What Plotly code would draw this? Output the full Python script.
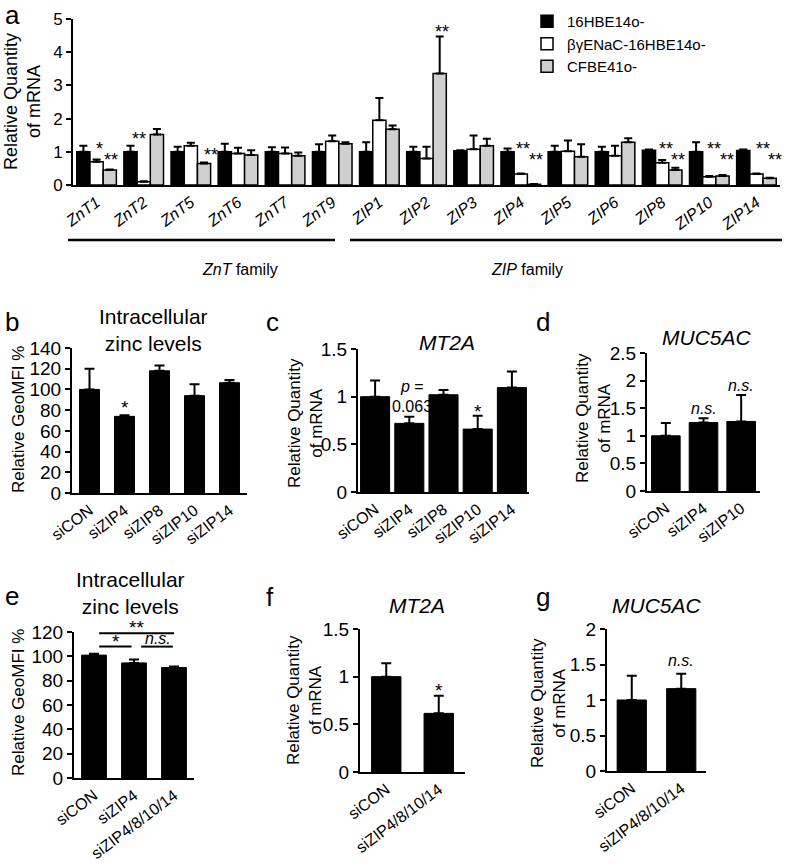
import plotly.graph_objects as go

W, H = 790, 867
FONT = "Liberation Sans, Arial, sans-serif"

# ---------------- Panel a data ----------------
genes = ["ZnT1", "ZnT2", "ZnT5", "ZnT6", "ZnT7", "ZnT9", "ZIP1", "ZIP2", "ZIP3",
         "ZIP4", "ZIP5", "ZIP6", "ZIP8", "ZIP10", "ZIP14"]
series_names = ["16HBE14o-", "βγENaC-16HBE14o-", "CFBE41o-"]
hbe_mean = [1.00, 1.00, 1.00, 1.00, 1.00, 1.00, 1.00, 1.00, 1.03, 1.00, 1.00, 1.00, 1.05, 1.00, 1.04]
hbe_err = [0.18, 0.18, 0.15, 0.24, 0.14, 0.23, 0.29, 0.15, 0.02, 0.10, 0.18, 0.15, 0.02, 0.29, 0.03]
benac_mean = [0.70, 0.10, 1.18, 0.95, 0.95, 1.32, 1.95, 0.80, 1.08, 0.33, 1.02, 0.88, 0.67, 0.25, 0.33]
benac_err = [0.07, 0.01, 0.09, 0.17, 0.18, 0.17, 0.67, 0.35, 0.41, 0.02, 0.32, 0.30, 0.08, 0.02, 0.02]
cfbe_mean = [0.45, 1.52, 0.65, 0.90, 0.88, 1.24, 1.68, 3.36, 1.18, 0.02, 0.85, 1.29, 0.45, 0.27, 0.20]
cfbe_err = [0.02, 0.17, 0.03, 0.15, 0.10, 0.05, 0.11, 1.11, 0.21, 0.01, 0.38, 0.12, 0.07, 0.03, 0.02]

# ---------------- Panels b-g data ----------------
b_groups = ["siCON", "siZIP4", "siZIP8", "siZIP10", "siZIP14"]
b_mean = [100, 74, 118, 94, 106.5]
b_err = [20, 1, 5, 11, 2.5]

c_groups = ["siCON", "siZIP4", "siZIP8", "siZIP10", "siZIP14"]
c_mean = [1.00, 0.72, 1.02, 0.66, 1.095]
c_err = [0.17, 0.07, 0.05, 0.14, 0.17]

d_groups = ["siCON", "siZIP4", "siZIP10"]
d_mean = [1.00, 1.24, 1.26]
d_err = [0.23, 0.08, 0.48]

e_groups = ["siCON", "siZIP4", "siZIP4/8/10/14"]
e_mean = [101, 94.6, 90.8]
e_err = [1.2, 2.7, 0.8]

f_groups = ["siCON", "siZIP4/8/10/14"]
f_mean = [1.00, 0.615]
f_err = [0.14, 0.185]

g_groups = ["siCON", "siZIP4/8/10/14"]
g_mean = [1.00, 1.16]
g_err = [0.34, 0.21]


def xd(x0, x1):
    return [x0 / W, x1 / W]


def yd(ytop, ybot):
    return [1 - ybot / H, 1 - ytop / H]


fig = go.Figure()
layout = dict(
    template="none",
    width=W, height=H, margin=dict(l=0, r=0, t=0, b=0, pad=0, autoexpand=False),
    paper_bgcolor="white", plot_bgcolor="white",
    font=dict(family=FONT, color="black", size=16),
    barmode="overlay",
    showlegend=True,
    legend=dict(x=527 / W, y=1 - 5 / H, xanchor="left", yanchor="top",
                font=dict(size=15, family=FONT), bgcolor="rgba(0,0,0,0)",
                tracegroupgap=0, itemwidth=30),
)

TICKANGLE = -37
axis_common_x = dict(showline=True, linecolor="black", linewidth=2, ticks="",
                     showgrid=False, zeroline=False, type="category", mirror=False,
                     automargin=False)
axis_common_y = dict(showline=True, linecolor="black", linewidth=2, ticks="outside",
                     ticklen=5, tickwidth=1.5, tickcolor="black", showgrid=False,
                     zeroline=False, automargin=False)

# ---------------- Panel a ----------------
cols = ["black", "white", "#cfcfcf"]
means = [hbe_mean, benac_mean, cfbe_mean]
errs = [hbe_err, benac_err, cfbe_err]
offsets = [-0.42, -0.14, 0.14]
for name, m, e, c, off in zip(series_names, means, errs, cols, offsets):
    fig.add_trace(go.Bar(
        x=genes, y=m, name=name, xaxis="x", yaxis="y",
        width=0.28, offset=off,
        marker=dict(color=c, line=dict(color="black", width=1.5)),
        error_y=dict(type="data", array=e, arrayminus=[0] * len(e), symmetric=False,
                     color="black", thickness=2, width=4),
        showlegend=True,
    ))

layout["xaxis"] = dict(axis_common_x, domain=xd(73, 780), anchor="y",
                       range=[-0.5, len(genes) - 0.5],
                       tickmode="array", tickvals=genes,
                       ticktext=["<i>%s</i>" % g for g in genes],
                       tickangle=TICKANGLE, tickfont=dict(size=16, family=FONT))
layout["yaxis"] = dict(axis_common_y, domain=yd(19, 185), anchor="x",
                       range=[0, 5], dtick=1, tickfont=dict(size=17, family=FONT))

annotations = []
shapes = []

a_stars = [(0, 0.07, 1.20, "*"), (0, 0.30, 0.87, "**"), (1, -0.10, 1.50, "**"),
           (2, 0.43, 1.03, "**"), (7, 0.33, 4.73, "**"),
           (9, 0.05, 1.20, "**"), (9, 0.33, 0.88, "**"),
           (12, 0.08, 1.20, "**"), (12, 0.34, 0.88, "**"),
           (13, 0.10, 1.20, "**"), (13, 0.38, 0.88, "**"),
           (14, 0.14, 1.20, "**"), (14, 0.40, 0.88, "**")]
for gi, off, yv, txt in a_stars:
    annotations.append(dict(x=gi + off, y=yv, xref="x", yref="y", text=txt,
                            showarrow=False, font=dict(size=18, family=FONT),
                            yanchor="middle", xanchor="center", yshift=-4))

# family lines
shapes.append(dict(type="line", xref="paper", yref="paper", x0=68 / W, x1=335 / W,
                   y0=1 - 240 / H, y1=1 - 240 / H, line=dict(color="black", width=2.5)))
shapes.append(dict(type="line", xref="paper", yref="paper", x0=350 / W, x1=782 / W,
                   y0=1 - 240 / H, y1=1 - 240 / H, line=dict(color="black", width=2.5)))
annotations.append(dict(x=200 / W, y=1 - 259 / H, xref="paper", yref="paper",
                        text="<i>ZnT</i> family", showarrow=False,
                        font=dict(size=16, family=FONT)))
annotations.append(dict(x=565 / W, y=1 - 259 / H, xref="paper", yref="paper",
                        text="<i>ZIP</i> family", showarrow=False,
                        font=dict(size=16, family=FONT)))

# ---------------- Panels b-g ----------------
panels = [
    # idx, x0, x1, ytop, ybot, ymax, dtick, groups, mean, err, barwidth
    (2, 72, 247, 348, 493, 140, 20, b_groups, b_mean, b_err, 0.57),
    (3, 358, 529, 349, 492, 1.5, 0.5, c_groups, c_mean, c_err, 0.85),
    (4, 647, 760, 353, 491, 2.5, 0.5, d_groups, d_mean, d_err, 0.76),
    (5, 74, 194, 632, 778, 120, 20, e_groups, e_mean, e_err, 0.62),
    (6, 360, 465, 629, 772, 1.5, 0.5, f_groups, f_mean, f_err, 0.56),
    (7, 607, 706, 629, 771, 2.0, 0.5, g_groups, g_mean, g_err, 0.59),
]
for idx, x0, x1, ytop, ybot, ymax, dt, grp, m, e, bw in panels:
    fig.add_trace(go.Bar(
        x=grp, y=m, xaxis="x%d" % idx, yaxis="y%d" % idx, width=bw,
        marker=dict(color="black", line=dict(color="black", width=1)),
        error_y=dict(type="data", array=e, arrayminus=[0] * len(e), symmetric=False,
                     color="black", thickness=2, width=5),
        showlegend=False,
    ))
    layout["xaxis%d" % idx] = dict(axis_common_x, domain=xd(x0, x1), anchor="y%d" % idx,
                                   range=[-0.5, len(grp) - 0.5], tickangle=TICKANGLE,
                                   tickfont=dict(size=16, family=FONT))
    layout["yaxis%d" % idx] = dict(axis_common_y, domain=yd(ytop, ybot), anchor="x%d" % idx,
                                   range=[0, ymax], dtick=dt,
                                   tickfont=dict(size=19, family=FONT))

# y-axis titles
ytitles = [
    (22, 102, "Relative Quantity<br>of mRNA", 18),
    (18, 420, "Relative GeoMFI %", 17),
    (306, 423, "Relative Quantity<br>of mRNA", 17),
    (593, 418, "Relative Quantity<br>of mRNA", 17),
    (18, 703, "Relative GeoMFI %", 17),
    (304, 700, "Relative Quantity<br>of mRNA", 17),
    (548, 703, "Relative Quantity<br>of mRNA", 17),
]
for xp, yp, txt, fs in ytitles:
    annotations.append(dict(x=xp / W, y=1 - yp / H, xref="paper", yref="paper", text=txt,
                            textangle=-90, showarrow=False, font=dict(size=fs, family=FONT),
                            xanchor="center", yanchor="middle"))

# panel titles
ptitles = [
    (153, 330, "Intracellular<br>zinc levels"),
    (447, 342, "<i>MT2A</i>"),
    (707, 337, "<i>MUC5AC</i>"),
    (130, 593, "Intracellular<br>zinc levels"),
    (417, 605, "<i>MT2A</i>"),
    (657, 605, "<i>MUC5AC</i>"),
]
for xp, yp, txt in ptitles:
    annotations.append(dict(x=xp / W, y=1 - yp / H, xref="paper", yref="paper", text=txt,
                            showarrow=False, font=dict(size=21, family=FONT),
                            xanchor="center", yanchor="middle"))

# panel letters
letters = [("a", 12, 15), ("b", 12, 322), ("c", 272, 322), ("d", 543, 322),
           ("e", 12, 596), ("f", 270, 597), ("g", 543, 597)]
for t, xp, yp in letters:
    annotations.append(dict(x=xp / W, y=1 - yp / H, xref="paper", yref="paper", text=t,
                            showarrow=False, font=dict(size=26, family=FONT),
                            xanchor="center", yanchor="middle"))

# significance marks on panels b-g
sig = [
    ("x2", "y2", 1, 86, "*", True),
    ("x3", "y3", 3, 0.89, "*", True),
    ("x4", "y4", 1, 1.49, "<i>n.s.</i>", False),
    ("x4", "y4", 2, 1.92, "<i>n.s.</i>", False),
    ("x6", "y6", 1, 0.90, "*", True),
    ("x7", "y7", 1, 1.56, "<i>n.s.</i>", False),
]
for xr, yr, xi, yv, txt, star in sig:
    annotations.append(dict(x=xi, y=yv, xref=xr, yref=yr, text=txt, showarrow=False,
                            font=dict(size=19 if star else 16, family=FONT),
                            yanchor="middle", yshift=-4 if star else 0))
annotations.append(dict(x=1.08, y=1.11, xref="x3", yref="y3", text="<i>p</i> =",
                        showarrow=False, font=dict(size=16, family=FONT)))
annotations.append(dict(x=1.08, y=0.90, xref="x3", yref="y3", text="0.063",
                        showarrow=False, font=dict(size=16, family=FONT)))

# brackets on panel e
brackets = [(0.13, 2.0, 119, "**", 1.07), (0.13, 0.94, 108, "*", 0.55),
            (1.18, 1.97, 108, "<i>n.s.</i>", 1.6)]
for bx0, bx1, by, txt, tx in brackets:
    shapes.append(dict(type="line", xref="x5", yref="y5", x0=bx0, x1=bx1, y0=by, y1=by,
                       line=dict(color="black", width=2)))
    star = "*" in txt and "n.s." not in txt
    annotations.append(dict(x=tx, y=by, xref="x5", yref="y5", text=txt, showarrow=False,
                            font=dict(size=19 if star else 16, family=FONT),
                            yanchor="bottom", yshift=-7 if star else -2))

layout["annotations"] = annotations
layout["shapes"] = shapes
fig.update_layout(**layout)
fig.write_html("out.html", config={"displayModeBar": False},
               post_script="document.body.style.margin='0px';document.body.style.padding='0px';")
